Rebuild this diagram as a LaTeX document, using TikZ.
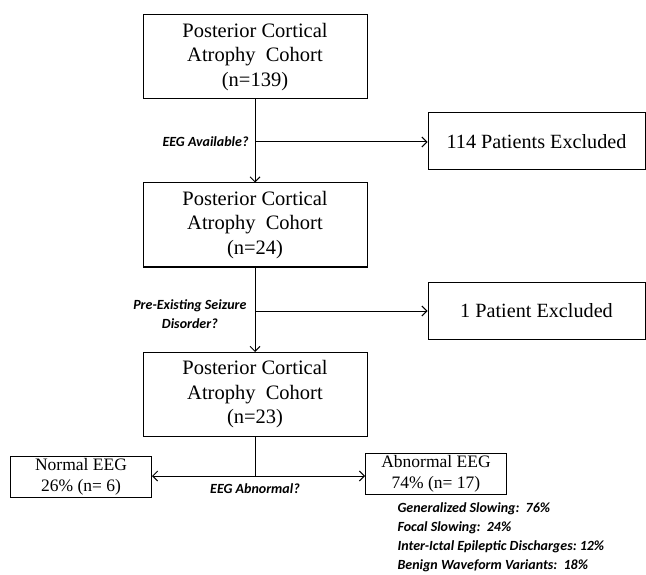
\documentclass[tikz,border=0pt]{standalone}
\usepackage{fontspec}
\setmainfont{Liberation Serif}
\newfontfamily\labelfont{Carlito}
\usetikzlibrary{arrows.meta,positioning}
\tikzset{>={Straight Barb[length=5pt,width=10pt,line width=1pt]},
  cohort/.style={draw, line width=1pt, minimum width=224pt, minimum height=84pt,
    inner sep=0pt, align=center, font=\fontsize{20.5}{24.5}\selectfont},
  excluded/.style={draw, line width=1pt, minimum width=217pt, minimum height=57pt,
    inner sep=0pt, font=\fontsize{20.2}{24}\selectfont},
  result/.style={draw, line width=1pt, minimum width=141pt, minimum height=41pt,
    inner sep=0pt, align=center, font=\fontsize{17.5}{21}\selectfont},
  question/.style={font=\labelfont\bfseries\itshape\fontsize{14}{19}\selectfont, align=center},
  every edge/.style={draw, line width=1pt}}
\begin{document}
\begin{tikzpicture}[x=1pt, y=-1pt]
  \useasboundingbox (0,0) rectangle (646,575);
  \node [cohort] (c1) at (255,57)    {Posterior Cortical\\Atrophy\ \ Cohort\\(n=139)};
  \node [cohort] (c2) at (255,225)   {Posterior Cortical\\Atrophy\ \ Cohort\\(n=24)};
  \node [cohort] (c3) at (255,394.5) {Posterior Cortical\\Atrophy\ \ Cohort\\(n=23)};
  \node [excluded] (x1) at (536.5,141.5) {114 Patients Excluded};
  \node [excluded] (x2) at (536.5,311)   {1 Patient Excluded};
  \node [result] (normal)   at (81,476.5) {Normal EEG\\26\% (n= 6)};
  \node [result] (abnormal) at (436,474)  {Abnormal EEG\\74\% (n= 17)};
  \coordinate (s1) at (255,142);
  \coordinate (s2) at (255,311);
  \coordinate (s3) at (255,476);
  \path
    (c1) edge [->] (c2)
    (s1) edge [->] (x1.west |- s1)
    (c2) edge [->] (c3)
    (s2) edge [->] (x2.west |- s2)
    (c3.south) edge (s3)
    (s3) edge [->] (normal.east |- s3)
    (s3) edge [->] (abnormal.west |- s3);
  \node [question, left=3pt of s1] (q1) {EEG Available?};
  \node [question, anchor=east] (q2) at (250,314) {Pre-Existing Seizure\\Disorder?};
  \node [question, below=4pt of s3] (q3) {EEG Abnormal?};
  \node [question, align=left, anchor=north west] (details) at (394,499)
    {Generalized Slowing:\ \ 76\%\\Focal Slowing:\ \ 24\%\\Inter-Ictal Epileptic Discharges:\ 12\%\\Benign Waveform Variants:\ \ 18\%};
\end{tikzpicture}
\end{document}
